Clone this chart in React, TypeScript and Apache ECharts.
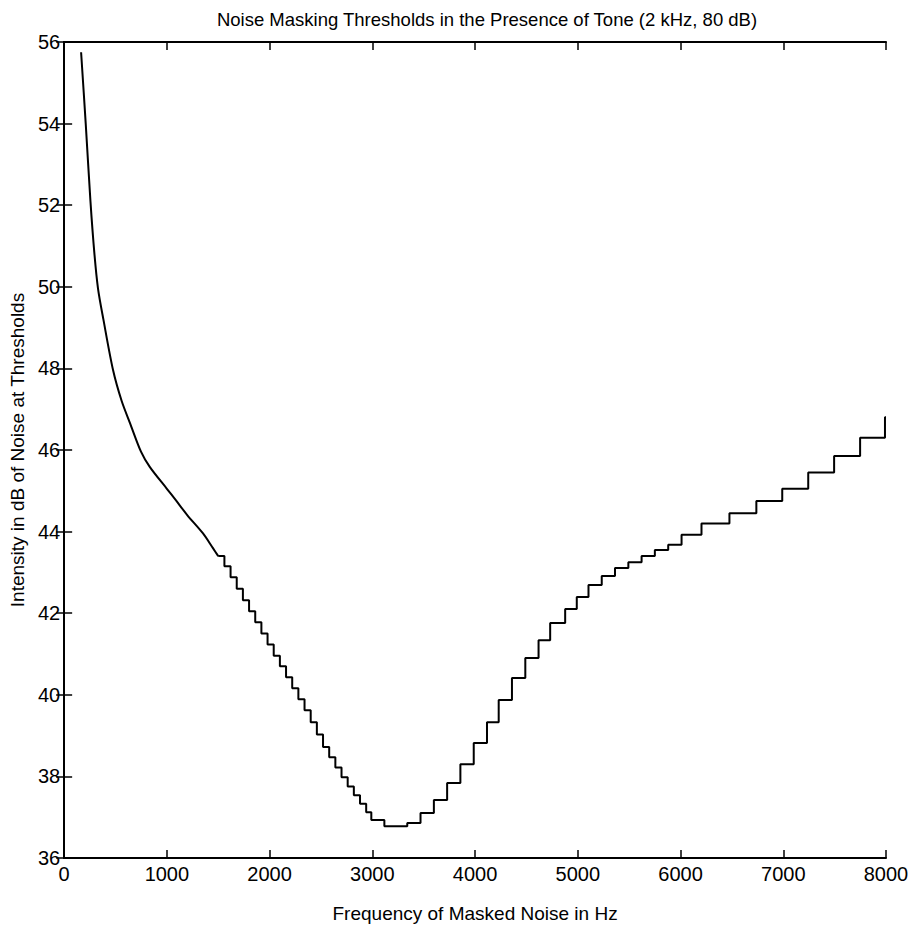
import React, { useEffect, useRef } from "react";
import * as echarts from "echarts";

// Smooth low-frequency part of the threshold curve (Hz, dB)
const smoothFreq = [165, 210, 256, 295, 330, 382, 476, 560, 641, 748, 835, 1000, 1087, 1200, 1350, 1447, 1500];
const smoothLevel = [55.75, 54.0, 52.1, 50.8, 49.95, 49.2, 47.96, 47.2, 46.66, 45.96, 45.58, 45.05, 44.77, 44.4, 43.96, 43.6, 43.4];

// Stepped part: each level holds from its frequency until the next one
const stepFreq = [
  1500, 1560, 1620, 1680, 1740, 1800, 1860, 1920, 1980, 2040, 2100, 2160, 2220, 2280, 2340,
  2400, 2460, 2520, 2580, 2640, 2700, 2760, 2820, 2880, 2940, 2990, 3117,
  3340, 3469, 3599, 3728, 3857, 3987, 4116, 4230, 4359, 4489, 4618, 4731, 4877, 4990,
  5104, 5233, 5362, 5492, 5621, 5750, 5880, 6010, 6204, 6476, 6738, 6990, 7243, 7495,
  7748, 7990, 8000,
];
const stepLevel = [
  43.4, 43.15, 42.88, 42.6, 42.32, 42.05, 41.78, 41.5, 41.23, 40.96, 40.7, 40.43, 40.16, 39.89, 39.62,
  39.33, 39.03, 38.72, 38.47, 38.22, 37.98, 37.75, 37.54, 37.33, 37.12, 36.93, 36.78,
  36.86, 37.1, 37.42, 37.84, 38.3, 38.82, 39.33, 39.87, 40.41, 40.9, 41.34, 41.76, 42.1, 42.4,
  42.69, 42.91, 43.11, 43.25, 43.4, 43.55, 43.68, 43.92, 44.2, 44.45, 44.75, 45.05, 45.45, 45.85,
  46.3, 46.8, 46.8,
];

const xTicks = [0, 1000, 2000, 3000, 4000, 5000, 6000, 7000, 8000];
const yTicks = [36, 38, 40, 42, 44, 46, 48, 50, 52, 54, 56];

const titleText = "Noise Masking Thresholds in the Presence of Tone (2 kHz, 80 dB)";
const xLabel = "Frequency of Masked Noise in Hz";
const yLabel = "Intensity in dB of Noise at Thresholds";

const FONT = "'Liberation Sans', Arial, sans-serif";

export default function App() {
  const ref = useRef<HTMLDivElement>(null);
  useEffect(() => {
    if (!ref.current) return;
    const chart = echarts.init(ref.current, null, { renderer: "svg" });
    const lineStyleAxis = { color: "#000", width: 2 };
    const tickInside = { show: true, inside: true, length: 8, lineStyle: { color: "#000", width: 1.5 } };
    chart.setOption({
      animation: false,
      backgroundColor: "#fff",
      title: {
        text: titleText,
        left: 482,
        top: 5,
        textAlign: "center",
        textStyle: { fontFamily: FONT, fontSize: 18.5, fontWeight: "normal", color: "#000" },
      },
      grid: { left: 61, top: 42, right: 26, bottom: 72, containLabel: false },
      xAxis: [
        {
          type: "value",
          min: xTicks[0],
          max: xTicks[xTicks.length - 1],
          interval: 1000,
          position: "bottom",
          axisLine: { show: true, lineStyle: lineStyleAxis },
          axisTick: tickInside,
          splitLine: { show: false },
          axisLabel: {
            color: "#000",
            fontFamily: FONT,
            fontSize: 20,
            margin: 6,
            formatter: (v: number) => String(v),
          },
          name: xLabel,
          nameLocation: "middle",
          nameGap: 46,
          nameTextStyle: { color: "#000", fontFamily: FONT, fontSize: 19 },
        },
        {
          type: "value",
          min: xTicks[0],
          max: xTicks[xTicks.length - 1],
          interval: 1000,
          position: "top",
          axisLine: { show: true, lineStyle: lineStyleAxis },
          axisTick: tickInside,
          axisLabel: { show: false },
          splitLine: { show: false },
        },
      ],
      yAxis: [
        {
          type: "value",
          min: yTicks[0],
          max: yTicks[yTicks.length - 1],
          interval: 2,
          position: "left",
          axisLine: { show: true, lineStyle: lineStyleAxis },
          axisTick: tickInside,
          splitLine: { show: false },
          axisLabel: { color: "#000", fontFamily: FONT, fontSize: 20, margin: 4 },
          name: yLabel,
          nameLocation: "middle",
          nameGap: 34,
          nameRotate: 90,
          nameTextStyle: { color: "#000", fontFamily: FONT, fontSize: 19 },
        },
        {
          type: "value",
          min: yTicks[0],
          max: yTicks[yTicks.length - 1],
          interval: 2,
          position: "right",
          axisLine: { show: true, lineStyle: lineStyleAxis },
          axisTick: tickInside,
          axisLabel: { show: false },
          splitLine: { show: false },
        },
      ],
      series: [
        {
          type: "line",
          xAxisIndex: 0,
          yAxisIndex: 0,
          data: smoothFreq.map((f, i) => [f, smoothLevel[i]]),
          smooth: 0.3,
          showSymbol: false,
          lineStyle: { color: "#000", width: 2 },
        },
        {
          type: "line",
          xAxisIndex: 0,
          yAxisIndex: 0,
          step: "end",
          data: stepFreq.map((f, i) => [f, stepLevel[i]]),
          showSymbol: false,
          lineStyle: { color: "#000", width: 2 },
        },
      ],
    });
    return () => chart.dispose();
  }, []);
  return <div ref={ref} style={{ width: 912, height: 930, position: "absolute", left: 0, top: 0 }} />;
}
